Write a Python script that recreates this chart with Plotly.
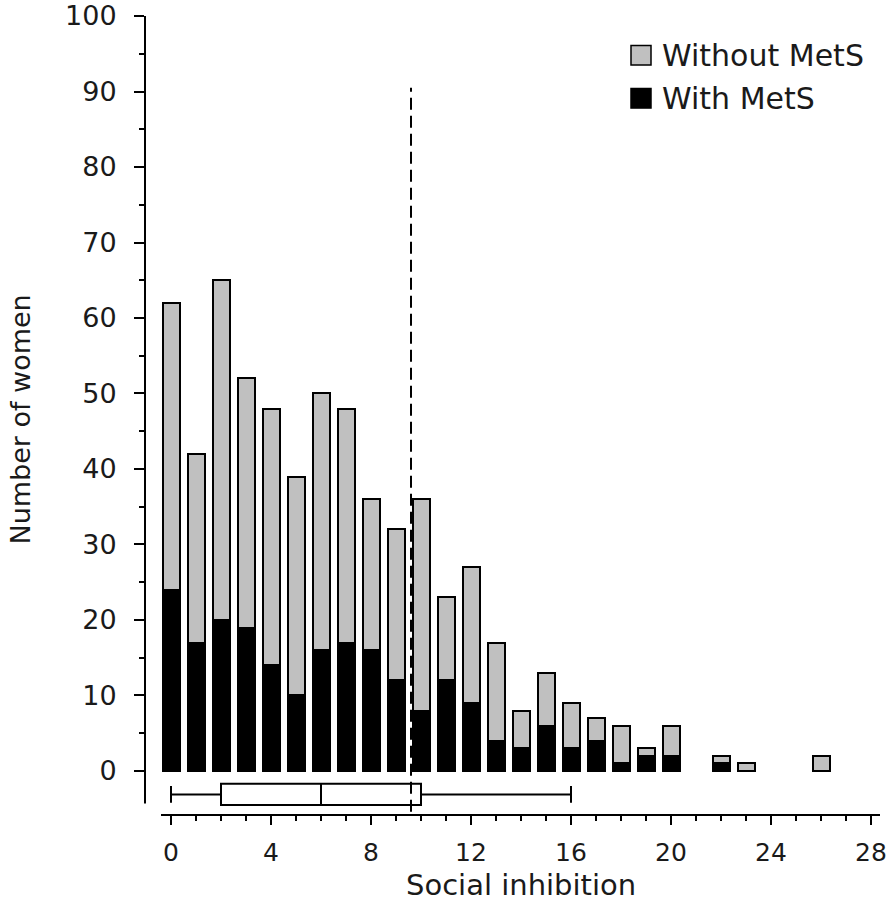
import plotly.graph_objects as go

# ---- data ----
scores = [0, 1, 2, 3, 4, 5, 6, 7, 8, 9, 10, 11, 12, 13, 14, 15, 16, 17, 18, 19, 20, 22, 23, 26]
with_mets = [24, 17, 20, 19, 14, 10, 16, 17, 16, 12, 8, 12, 9, 4, 3, 6, 3, 4, 1, 2, 2, 1, None, None]
without_mets = [38, 25, 45, 33, 34, 29, 34, 31, 20, 20, 28, 11, 18, 13, 5, 7, 6, 3, 5, 1, 4, 1, 1, 2]

# box plot summary of social inhibition
box_min = [0]
box_q1 = [2]
box_median = [6]
box_q3 = [10]
box_max = [16]

cutoff = 9.6

legend_labels = ["Without MetS", "With MetS"]
legend_colors = ["#c0c0c0", "#000000"]

y_major = [0, 10, 20, 30, 40, 50, 60, 70, 80, 90, 100]
y_minor = [5, 15, 25, 35, 45, 55, 65, 75, 85, 95]
x_major = [0, 4, 8, 12, 16, 20, 24, 28]
x_minor = [1, 2, 3, 5, 6, 7, 9, 10, 11, 13, 14, 15, 17, 18, 19, 21, 22, 23, 25, 26, 27]

FONT = "DejaVu Sans"
TXT = "#1a1a1a"
fig = go.Figure()

fig.add_trace(go.Bar(
    x=scores, y=with_mets, width=0.68, name=legend_labels[1],
    marker=dict(color=legend_colors[1], line=dict(color="black", width=2)),
    showlegend=False,
))
fig.add_trace(go.Bar(
    x=scores, y=without_mets, width=0.68, name=legend_labels[0],
    marker=dict(color=legend_colors[0], line=dict(color="black", width=2)),
    showlegend=False,
))

fig.add_trace(go.Box(
    y=[-3.1], orientation="h",
    q1=box_q1, median=box_median, q3=box_q3,
    lowerfence=box_min, upperfence=box_max,
    width=2.8, whiskerwidth=0.8,
    fillcolor="white", line=dict(color="black", width=2),
    boxpoints=False, showlegend=False, hoverinfo="skip",
))

shapes = []
# dashed cut-off line
shapes.append(dict(type="line", xref="x", yref="y", x0=cutoff, x1=cutoff, y0=-5.4, y1=90.5,
                   line=dict(color="black", width=2, dash="12px,6px")))
# axis lines (offset style)
shapes.append(dict(type="line", xref="paper", yref="y", x0=0, x1=0, y0=-4.3, y1=100,
                   line=dict(color="black", width=2)))
shapes.append(dict(type="line", xref="x", yref="paper", x0=-0.4, x1=28.36, y0=0, y1=0,
                   line=dict(color="black", width=2)))

# manual legend
annotations = []
leg_y = [94.8, 89.1]
for lab, col, yy in zip(legend_labels, legend_colors, leg_y):
    shapes.append(dict(type="rect", xref="x", yref="y", x0=18.4, x1=19.2, y0=yy - 1.3, y1=yy + 1.3,
                       fillcolor=col, line=dict(color="black", width=1.5)))
    annotations.append(dict(xref="x", yref="y", x=19.55, y=yy, text=lab, showarrow=False,
                            xanchor="left", yanchor="middle",
                            font=dict(family=FONT, size=30, color=TXT)))

# axis titles
annotations.append(dict(xref="x", yref="paper", x=14.0, y=-0.087, text="Social inhibition",
                        showarrow=False, xanchor="center", yanchor="middle",
                        font=dict(family=FONT, size=29, color=TXT)))
annotations.append(dict(xref="paper", yref="paper", x=-0.17, y=0.495, text="Number of women",
                        showarrow=False, xanchor="center", yanchor="middle", textangle=-90,
                        font=dict(family=FONT, size=27, color=TXT)))

fig.update_layout(
    width=894, height=920, autosize=False,
    margin=dict(l=145, r=14, t=16, b=105, autoexpand=False),
    paper_bgcolor="white", plot_bgcolor="white",
    barmode="stack", bargap=0,
    shapes=shapes, annotations=annotations,
    font=dict(family=FONT, color=TXT),
    xaxis=dict(range=[-1.04, 28.36], showgrid=False, zeroline=False, showline=False,
               automargin=False,
               tickmode="array", tickvals=x_major, ticks="outside", ticklen=9, tickwidth=2,
               tickcolor="black", ticklabelstandoff=6,
               tickfont=dict(family=FONT, size=25, color=TXT),
               minor=dict(tickmode="array", tickvals=x_minor, ticks="outside", ticklen=5,
                          tickwidth=2, tickcolor="black", showgrid=False)),
    yaxis=dict(range=[-5.83, 100], showgrid=False, zeroline=False, showline=False,
               automargin=False,
               tickmode="array", tickvals=y_major, ticks="outside", ticklen=10, tickwidth=2,
               tickcolor="black", ticklabelstandoff=12,
               tickfont=dict(family=FONT, size=27, color=TXT),
               minor=dict(tickmode="array", tickvals=y_minor, ticks="outside", ticklen=5,
                          tickwidth=2, tickcolor="black", showgrid=False)),
)

fig.write_html("out.html", config={"displayModeBar": False},
               post_script="document.body.style.margin='0px';")
